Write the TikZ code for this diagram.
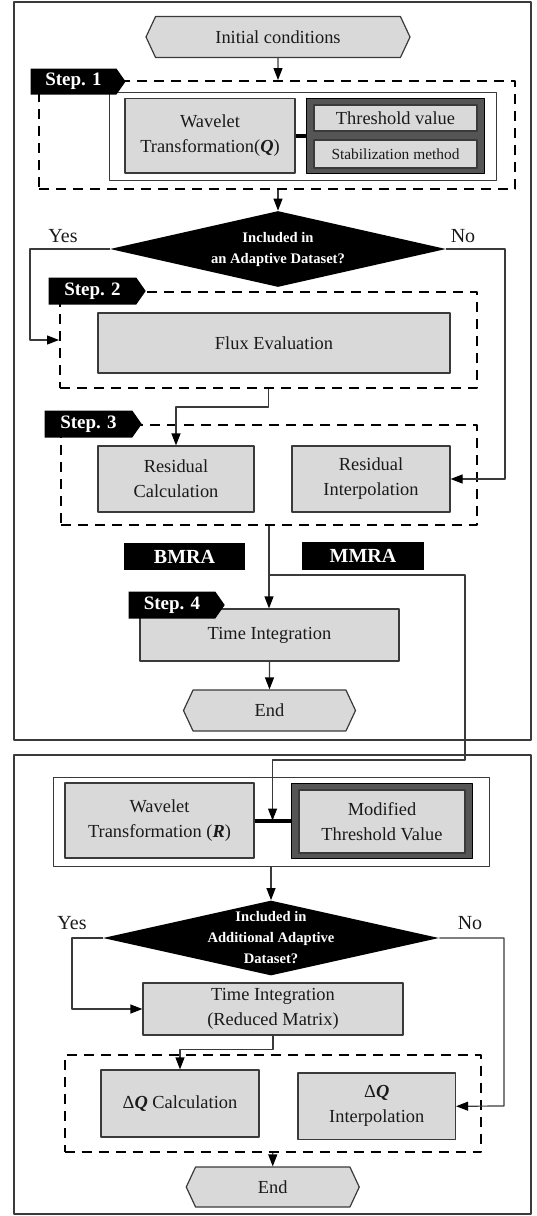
\documentclass[tikz,border=0pt]{standalone}
\usepackage{fontspec}
\setmainfont{Liberation Serif}
\usetikzlibrary{shapes.geometric,shapes.symbols,arrows.meta,calc}
\definecolor{boxfill}{HTML}{D9D9D9}
\definecolor{edge}{HTML}{3A3A3A}
\definecolor{heavy}{HTML}{555555}
\definecolor{ink}{HTML}{1A1A1A}

\begin{document}
\begin{tikzpicture}[x=0.5pt, y=-0.5pt, line join=round, >={Triangle[length=6pt,width=4.5pt,color=black]},
    frame/.style={draw=edge, line width=0.6pt, inner sep=0pt},
    box/.style={draw=edge, fill=boxfill, line width=0.6pt, inner sep=1pt, align=center, text=ink, font=\fontsize{9.2}{12.5}\selectfont},
    heavybox/.style={draw=black, fill=heavy, line width=0.5pt, inner sep=0pt},
    wrap/.style={draw=edge, fill=white, line width=0.5pt, inner sep=0pt},
    grp/.style={draw=black, line width=1pt, dash pattern=on 5pt off 3.5pt, inner sep=0pt},
    hexa/.style={box, signal, signal to=west and east, signal pointer angle=130},
    tag/.style={signal, signal to=east, signal pointer angle=110, fill=black, text=white, inner sep=0pt, font=\bfseries\fontsize{9.5}{10}\selectfont},
    label/.style={fill=black, text=white, inner sep=0pt, font=\bfseries\fontsize{10}{11}\selectfont},
    ask/.style={diamond, fill=black, text=white, aspect=4.45, inner sep=-5pt, align=center, font=\bfseries\fontsize{7.3}{10.5}\selectfont},
    note/.style={text=ink, font=\fontsize{10}{12}\selectfont},
    link/.style={draw=edge, line width=0.6pt}]
    \useasboundingbox (0,0) rectangle (536,1216);
    \node[frame, minimum width=258.5pt, minimum height=369pt] (upper) at (272.5,371) {};
    \node[frame, minimum width=258.5pt, minimum height=229.5pt] (lower) at (272.5,984.5) {};
    % Step 1
    \node[hexa, minimum width=132pt, minimum height=20.5pt] (init) at (278,37) {Initial conditions};
    \node[grp, minimum width=238pt, minimum height=54pt] (grp1) at (277,135) {};
    \node[wrap, minimum width=193.5pt, minimum height=44pt] (wrap1) at (302.5,136) {};
    \node[box, minimum width=85pt, minimum height=37.25pt] (wavQ) at (210,135.75) {Wavelet\\Transformation(\textbf{\textit{Q}})};
    \node[heavybox, minimum width=89pt, minimum height=37.25pt] (thr) at (395,135.75) {};
    \node[box, minimum width=81.5pt, minimum height=13pt] (thrv) at (395.5,118) {Threshold value};
    \node[box, minimum width=81.5pt, minimum height=14pt, font=\fontsize{7.7}{9}\selectfont] (stab) at (395.5,154) {Stabilization method};
    \draw[line width=2pt] (wavQ) -- (thr);
    \node[tag, minimum width=47.5pt, minimum height=13pt] (s1) at (73.5,81.5) {Step. 1};
    \draw[link,->] (init) -- (init |- grp1.north);
    \node[ask, minimum width=168pt, minimum height=38pt] (dec1) at (278,249) {Included in\\an Adaptive Dataset?};
    \draw[link,->] (init |- grp1.south) -- (dec1);
    \node[note] (yes1) at (63,236) {Yes};
    \node[note] (no1) at (463,236) {No};
    % Step 2
    \node[grp, minimum width=208.5pt, minimum height=48pt] (grp2) at (268.5,340) {};
    \node[box, minimum width=176pt, minimum height=30pt] (flux) at (274,343) {Flux Evaluation};
    \node[tag, minimum width=48.5pt, minimum height=13.5pt] (s2) at (92.5,291) {Step. 2};
    \coordinate (yb1) at (30,340);
    \draw[link,->] (dec1.west) -| (yb1) -- (grp2.west);
    % Step 3
    \node[grp, minimum width=208pt, minimum height=50pt] (grp3) at (269,475) {};
    \node[box, minimum width=78pt, minimum height=33pt] (resC) at (176,479) {Residual\\Calculation};
    \node[box, minimum width=79pt, minimum height=33pt] (resI) at (371,479) {Residual\\Interpolation};
    \node[tag, minimum width=48.5pt, minimum height=13.5pt] (s3) at (88.5,424) {Step. 3};
    \coordinate (nb1) at (505,479);
    \draw[link,->] (dec1.east) -| (nb1) -- (resI.east);
    \draw[link,->] (grp2.south) -- ++(0,18) -| (resC.north);
    \node[label, minimum width=60.5pt, minimum height=13.5pt] (bmra) at (184.5,556.5) {BMRA};
    \node[label, minimum width=61pt, minimum height=14pt] (mmra) at (363,555.5) {MMRA};
    % Step 4
    \node[box, minimum width=129.5pt, minimum height=26pt] (ti) at (269.5,635) {Time Integration};
    \node[tag, minimum width=48pt, minimum height=13.5pt] (s4) at (172,605) {Step. 4};
    \node[hexa, minimum width=86pt, minimum height=20.5pt] (end1) at (269.5,710.5) {End};
    \draw[link,->] (grp3.south) -- (grp3.south |- ti.north);
    \draw[link,->] (ti) -- (end1);
    % MMRA
    \node[wrap, minimum width=218pt, minimum height=44.5pt] (wrap2) at (271,821.5) {};
    \node[box, minimum width=94.5pt, minimum height=37.5pt] (wavR) at (159.5,820.5) {Wavelet\\Transformation (\textbf{\textit{R}})};
    \node[heavybox, minimum width=90.5pt, minimum height=37.5pt] (modf) at (381.5,820.5) {};
    \node[box, minimum width=83pt, minimum height=31.5pt] (mod) at (382,821.5) {Modified\\Threshold Value};
    \draw[line width=2pt] (wavR) -- (modf);
    \coordinate (join) at ($(wavR.east)!0.5!(modf.west)$);
    \coordinate (split) at (269,575);
    \draw[link,->] (split) -| (465,760) -| (join);
    \node[ask, minimum width=168pt, minimum height=37.5pt] (dec2) at (271,938) {Included in\\Additional Adaptive\\Dataset?};
    \draw[link,->] (wrap2) -- (dec2);
    \node[note] (yes2) at (72,923) {Yes};
    \node[note] (no2) at (470,923) {No};
    \node[box, minimum width=130pt, minimum height=26pt] (tir) at (273,1009) {Time Integration\\(Reduced Matrix)};
    \node[grp, minimum width=208.25pt, minimum height=48.5pt] (grp4) at (272.75,1103.5) {};
    \node[box, minimum width=79pt, minimum height=33.5pt] (dqC) at (180,1103.5) {Δ\textbf{\textit{Q}} Calculation};
    \node[box, minimum width=78.75pt, minimum height=33.25pt] (dqI) at (376.75,1106.25) {Δ\textbf{\textit{Q}}\\Interpolation};
    \node[hexa, minimum width=86.5pt, minimum height=20pt] (end2) at (272.75,1187) {End};
    \coordinate (yb2) at (72,1009);
    \coordinate (nb2) at (504,1106);
    \draw[link,->] (dec2.west) -| (yb2) -- (tir.west);
    \draw[link,->] (dec2.east) -| (nb2) -- (dqI.east);
    \draw[link,->] (tir.south) -- ++(0,14) -| (dqC.north);
    \draw[link,->] (grp4.south) -- (end2);
\end{tikzpicture}
\end{document}
